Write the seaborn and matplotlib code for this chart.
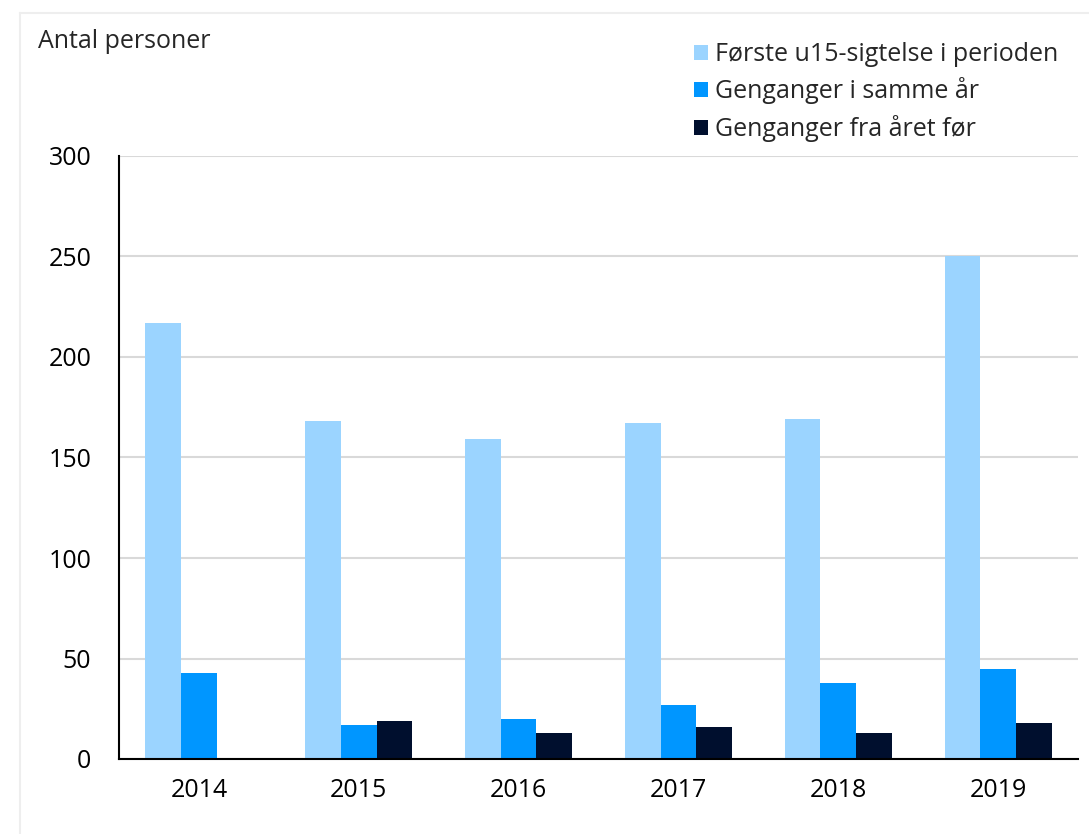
# Sigtelser af unge under 15 - antal personer pr. aar
import pandas as pd
import matplotlib
matplotlib.use('Agg')
import matplotlib.pyplot as plt
from matplotlib.lines import Line2D
from matplotlib.patches import Patch
import seaborn as sns

# data
years = ['2014', '2015', '2016', '2017', '2018', '2019']
first_charge = [217, 168, 159, 167, 169, 250]
repeat_same_year = [43, 17, 20, 27, 38, 45]
repeat_prev_year = [0, 19, 13, 16, 13, 18]
series_names = ['Første u15-sigtelse i perioden', 'Genganger i samme år', 'Genganger fra året før']
colors = ['#9BD4FF', '#0096FF', '#000F2E']

df = pd.DataFrame({
    'year': years * 3,
    'value': first_charge + repeat_same_year + repeat_prev_year,
    'series': [series_names[0]] * 6 + [series_names[1]] * 6 + [series_names[2]] * 6,
})

sns.set_style('white')
plt.rcParams['font.family'] = ['Open Sans', 'DejaVu Sans']

fig = plt.figure(figsize=(10.89, 8.34), dpi=100)
ax = fig.add_axes([119 / 1089, 1 - 759 / 834, (1078 - 119) / 1089, (759 - 156) / 834])

sns.barplot(data=df, x='year', y='value', hue='series', palette=colors,
            width=0.67, saturation=1, legend=False, linewidth=0, ax=ax)

ax.set_ylim(0, 300)
ax.set_xlim(-0.5, 5.5)
ax.set_yticks(range(0, 301, 50))
ax.set_xlabel('')
ax.set_ylabel('')
ax.grid(axis='y', color='#d9d9d9', linewidth=1.5)
ax.set_axisbelow(True)

for s in ['top', 'right']:
    ax.spines[s].set_visible(False)
for s in ['left', 'bottom']:
    ax.spines[s].set_color('black')
    ax.spines[s].set_linewidth(1.5)

ax.tick_params(axis='y', direction='in', length=5, width=1.5, labelsize=18, pad=20, colors='black')
ax.tick_params(axis='x', which='major', length=0, labelsize=18, pad=14, colors='black')
ax.set_xticks([i - 0.5 for i in range(7)], minor=True)
ax.tick_params(axis='x', which='minor', direction='in', length=8, width=1.5, colors='black')

fig.text(38 / 1089, 1 - 42 / 834, 'Antal personer', fontsize=18, va='center', ha='left')

handles = [Patch(facecolor=c, edgecolor='none') for c in colors]
fig.legend(handles, series_names, loc='upper left', bbox_to_anchor=(684 / 1089, 1 - 32 / 834),
           frameon=False, fontsize=18, handlelength=0.55, handleheight=0.55,
           handletextpad=0.3, labelspacing=0.42, borderaxespad=0)

# light frame at top and left
fig.add_artist(Line2D([20 / 1089, 1], [1 - 13 / 834] * 2, color='#eeeeee', linewidth=1.5))
fig.add_artist(Line2D([20 / 1089] * 2, [0, 1 - 13 / 834], color='#eeeeee', linewidth=1.5))

fig.savefig('out.png', dpi=100)
